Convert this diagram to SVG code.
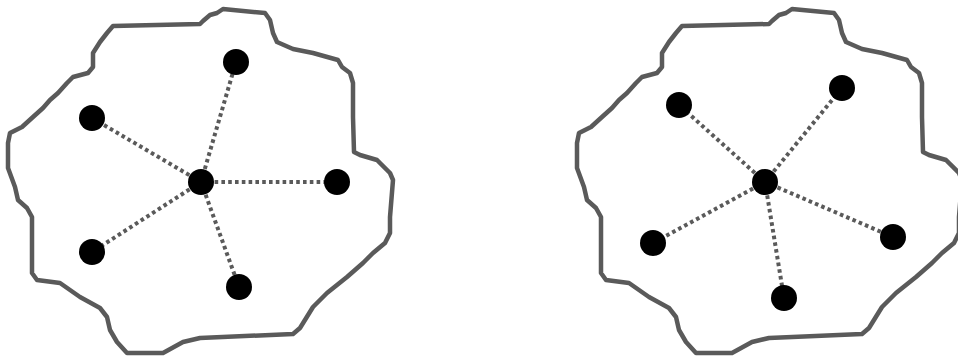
<svg xmlns="http://www.w3.org/2000/svg" width="958" height="358" viewBox="0 0 958 358">
<defs>
<style>
.blob{fill:#fff;stroke:#5a5a5a;stroke-width:4.5;stroke-linejoin:round;stroke-linecap:round}
.edge{stroke:#5a5a5a;stroke-width:4;stroke-dasharray:3.6 3.2;fill:none}
.node{fill:#000}
</style>
<path id="shape" d="M113,26 L200,24 L203,21 L210,15 L217,13 L223,9 L265,13 L270,20 L273,33 L277,42 L293,49 L313,53 L338,60 L342,67 L350,73 L353,83 L353,117 L354,152 L360,155 L377,160 L390,173 L393,180 L390,217 L390,233 L385,243 L373,253 L363,263 L347,277 L327,293 L313,307 L300,328 L293,334 L200,338 L183,342 L163,353 L127,353 L117,342 L110,330 L107,317 L100,308 L80,297 L60,283 L37,280 L32,273 L32,240 L32,217 L27,208 L18,200 L15,187 L8,168 L8,143 L10,133 L22,127 L33,117 L43,108 L50,100 L58,93 L67,83 L73,77 L88,73 L93,67 L93,53 L100,42 L107,33 Z"/>
</defs>
<rect width="958" height="358" fill="#fff"/>
<g id="blob-left"><use href="#shape" class="blob"/></g>
<g id="blob-right"><use href="#shape" class="blob" transform="translate(569,0)"/></g>
<g id="connectors">
<line class="edge" x1="201" y1="182" x2="236" y2="62"/>
<line class="edge" x1="201" y1="182" x2="92" y2="118"/>
<line class="edge" x1="201" y1="182" x2="337" y2="182"/>
<line class="edge" x1="201" y1="182" x2="92" y2="252"/>
<line class="edge" x1="201" y1="182" x2="239" y2="287"/>
<line class="edge" x1="765" y1="182" x2="679" y2="105"/>
<line class="edge" x1="765" y1="182" x2="842" y2="88"/>
<line class="edge" x1="765" y1="182" x2="653" y2="243"/>
<line class="edge" x1="765" y1="182" x2="893" y2="237"/>
<line class="edge" x1="765" y1="182" x2="784" y2="298"/>
</g>
<g id="n-l-center"><circle class="node" cx="201" cy="182" r="13"/></g>
<g id="n-l-top"><circle class="node" cx="236" cy="62" r="13"/></g>
<g id="n-l-topleft"><circle class="node" cx="92" cy="118" r="13"/></g>
<g id="n-l-right"><circle class="node" cx="337" cy="182" r="13"/></g>
<g id="n-l-bottomleft"><circle class="node" cx="92" cy="252" r="13"/></g>
<g id="n-l-bottom"><circle class="node" cx="239" cy="287" r="13"/></g>
<g id="n-r-center"><circle class="node" cx="765" cy="182" r="13"/></g>
<g id="n-r-topleft"><circle class="node" cx="679" cy="105" r="13"/></g>
<g id="n-r-topright"><circle class="node" cx="842" cy="88" r="13"/></g>
<g id="n-r-left"><circle class="node" cx="653" cy="243" r="13"/></g>
<g id="n-r-right"><circle class="node" cx="893" cy="237" r="13"/></g>
<g id="n-r-bottom"><circle class="node" cx="784" cy="298" r="13"/></g>
</svg>
